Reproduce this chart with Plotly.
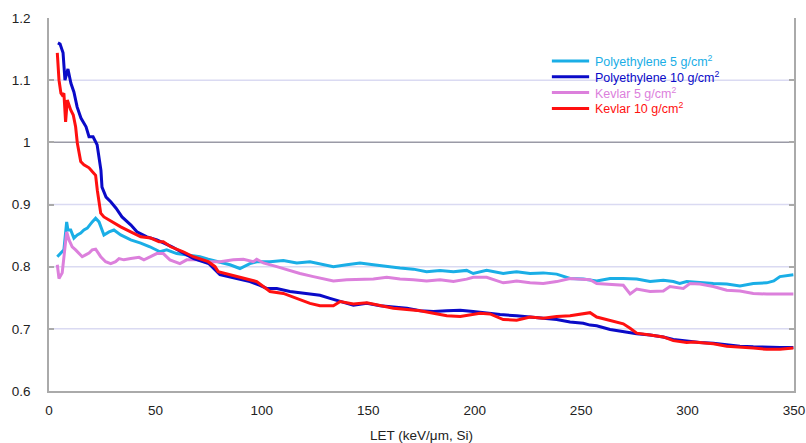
import plotly.graph_objects as go

# ---------------- data ----------------
x_pe10 = [4.2, 5.2, 6.6, 7.5, 8.9, 10.3, 11.7, 13.2, 15.0, 17.4,
          18.8, 20.7, 22.6, 23.5, 24.4, 24.9, 26.8, 29.1, 31.5, 34.3,
          38.5, 41.3, 46.0, 50.7, 57.8, 63.0, 68.0, 75.0, 78.0, 80.3,
          88.2, 94.4, 99.1, 102.3, 107.0, 113.2, 122.6, 127.3, 132.0, 136.8,
          143.0, 149.3, 155.6, 161.8, 168.1, 174.4, 180.6, 186.9, 193.2, 199.3,
          205.6, 208.7, 211.9, 219.7, 226.0, 232.2, 238.5, 244.8, 251.0, 254.2,
          257.3, 263.6, 269.8, 273.0, 276.1, 282.4, 288.6, 293.3, 299.6, 305.8,
          312.1, 318.4, 324.6, 330.9, 337.2, 343.4, 349.7]
y_pe10 = [1.160, 1.158, 1.144, 1.100, 1.118, 1.095, 1.081, 1.057, 1.039, 1.025,
          1.009, 1.009, 0.996, 0.975, 0.955, 0.928, 0.912, 0.904, 0.894, 0.880,
          0.867, 0.856, 0.848, 0.843, 0.832, 0.822, 0.813, 0.805, 0.795, 0.787,
          0.781, 0.776, 0.770, 0.765, 0.765, 0.760, 0.756, 0.754, 0.749, 0.744,
          0.738, 0.741, 0.737, 0.735, 0.733, 0.729, 0.728, 0.729, 0.730, 0.728,
          0.725, 0.724, 0.723, 0.721, 0.719, 0.717, 0.715, 0.711, 0.709, 0.706,
          0.705, 0.699, 0.695, 0.694, 0.692, 0.690, 0.687, 0.683, 0.680, 0.678,
          0.677, 0.674, 0.672, 0.671, 0.670, 0.670, 0.670]

x_k10 = [3.9, 4.7, 5.6, 6.2, 7.0, 7.8, 8.6, 10.2, 11.4, 12.5,
         13.3, 14.9, 16.4, 18.8, 20.3, 21.9, 22.7, 24.3, 25.8, 28.2,
         30.5, 33.7, 38.4, 43.1, 47.8, 51.7, 53.7, 57.2, 63.1, 67.8,
         74.8, 78.0, 79.5, 85.0, 91.3, 97.6, 100.7, 103.8, 110.1, 116.4,
         122.6, 127.3, 133.6, 136.8, 143.0, 149.3, 155.6, 161.8, 168.1, 174.4,
         180.6, 186.9, 193.2, 196.3, 202.5, 207.2, 213.4, 219.7, 226.0, 232.2,
         238.5, 244.8, 251.0, 254.2, 257.3, 263.6, 269.8, 273.0, 276.1, 282.4,
         288.6, 293.3, 299.6, 302.7, 305.8, 312.1, 318.4, 324.6, 330.9, 337.2,
         343.4, 349.7]
y_k10 = [1.144, 1.100, 1.079, 1.076, 1.079, 1.033, 1.068, 1.052, 1.044, 1.025,
         0.999, 0.969, 0.964, 0.959, 0.953, 0.947, 0.923, 0.886, 0.880, 0.875,
         0.870, 0.864, 0.856, 0.848, 0.846, 0.840, 0.840, 0.832, 0.824, 0.816,
         0.808, 0.800, 0.792, 0.787, 0.781, 0.776, 0.768, 0.760, 0.757, 0.749,
         0.741, 0.737, 0.737, 0.744, 0.740, 0.742, 0.737, 0.733, 0.731, 0.729,
         0.725, 0.721, 0.720, 0.722, 0.725, 0.724, 0.715, 0.714, 0.719, 0.717,
         0.720, 0.721, 0.724, 0.726, 0.719, 0.714, 0.708, 0.701, 0.693, 0.690,
         0.687, 0.681, 0.678, 0.679, 0.678, 0.676, 0.672, 0.671, 0.669, 0.667,
         0.667, 0.669]

x_pe5 = [3.9, 5.5, 7.0, 8.3, 8.9, 10.2, 11.7, 13.3, 14.9, 16.4,
         18.0, 20.3, 21.9, 23.5, 25.8, 28.2, 30.5, 33.7, 38.4, 43.1,
         47.4, 52.1, 55.3, 60.0, 64.7, 70.9, 74.8, 78.8, 85.0, 89.7,
         94.4, 97.6, 103.8, 110.1, 116.4, 122.6, 127.3, 133.6, 139.9, 146.1,
         152.4, 158.7, 164.9, 171.2, 177.4, 183.7, 190.0, 196.2, 199.3, 205.6,
         213.4, 219.7, 226.0, 232.2, 238.5, 244.8, 251.0, 257.3, 263.6, 269.8,
         276.1, 282.4, 288.6, 293.3, 296.3, 299.6, 305.8, 312.1, 318.4, 324.6,
         330.9, 337.2, 340.5, 343.4, 349.7]
y_pe5 = [0.816, 0.822, 0.827, 0.872, 0.859, 0.859, 0.846, 0.851, 0.854, 0.859,
         0.862, 0.872, 0.878, 0.872, 0.851, 0.856, 0.859, 0.851, 0.843, 0.838,
         0.832, 0.824, 0.827, 0.821, 0.819, 0.816, 0.812, 0.808, 0.803, 0.797,
         0.805, 0.808, 0.808, 0.810, 0.806, 0.808, 0.805, 0.800, 0.803, 0.806,
         0.803, 0.800, 0.798, 0.796, 0.792, 0.794, 0.792, 0.794, 0.789, 0.794,
         0.789, 0.792, 0.789, 0.790, 0.788, 0.781, 0.780, 0.777, 0.781, 0.781,
         0.780, 0.776, 0.778, 0.776, 0.773, 0.776, 0.774, 0.773, 0.772, 0.769,
         0.773, 0.774, 0.777, 0.784, 0.787]

x_k5 = [3.9, 4.7, 6.2, 7.4, 8.3, 9.4, 10.9, 12.5, 14.1, 15.6,
        17.2, 18.8, 20.3, 21.9, 24.3, 26.6, 29.0, 31.3, 32.9, 35.2,
        38.4, 42.3, 44.6, 47.8, 50.6, 53.7, 56.8, 61.5, 64.7, 69.4,
        75.6, 80.3, 86.6, 91.3, 96.0, 97.6, 100.7, 107.0, 111.7, 117.9,
        124.2, 128.9, 133.6, 139.9, 146.1, 152.4, 158.7, 164.9, 171.2, 177.4,
        183.7, 190.0, 196.2, 199.3, 205.6, 213.4, 219.7, 226.0, 232.2, 238.5,
        244.8, 251.0, 254.2, 257.3, 263.6, 269.8, 273.0, 276.1, 282.4, 288.6,
        291.7, 298.0, 301.1, 305.8, 312.1, 318.4, 324.6, 330.9, 337.2, 343.4,
        349.7]
y_k5 = [0.803, 0.781, 0.790, 0.827, 0.856, 0.843, 0.832, 0.827, 0.822, 0.816,
        0.819, 0.822, 0.827, 0.828, 0.816, 0.808, 0.805, 0.808, 0.813, 0.811,
        0.813, 0.815, 0.811, 0.816, 0.821, 0.821, 0.811, 0.805, 0.811, 0.811,
        0.808, 0.808, 0.811, 0.812, 0.808, 0.812, 0.806, 0.800, 0.795, 0.789,
        0.784, 0.780, 0.777, 0.779, 0.779, 0.780, 0.783, 0.780, 0.779, 0.777,
        0.779, 0.776, 0.780, 0.783, 0.783, 0.774, 0.777, 0.774, 0.773, 0.776,
        0.781, 0.780, 0.779, 0.773, 0.772, 0.770, 0.756, 0.764, 0.760, 0.761,
        0.768, 0.765, 0.773, 0.772, 0.768, 0.762, 0.761, 0.757, 0.756, 0.756,
        0.756]

series_names = ["Polyethylene 5 g/cm<sup>2</sup>", "Polyethylene 10 g/cm<sup>2</sup>",
                "Kevlar 5 g/cm<sup>2</sup>", "Kevlar 10 g/cm<sup>2</sup>"]
series_colors = ["#1aaee6", "#0a0ac8", "#dc80dc", "#ff1010"]

x_ticks = [0, 50, 100, 150, 200, 250, 300, 350]
y_ticks = [0.6, 0.7, 0.8, 0.9, 1.0, 1.1, 1.2]
y_ticktext = ["0.6", "0.7", "0.8", "0.9", "1", "1.1", "1.2"]
grid_minor = [0.7, 0.8, 0.9, 1.1]
grid_major = [1.0]

# ---------------- figure ----------------
FONT = "Liberation Sans, Arial, Helvetica, sans-serif"
fig = go.Figure()

series = [(x_pe5, y_pe5), (x_pe10, y_pe10), (x_k5, y_k5), (x_k10, y_k10)]
draw_order = [0, 2, 1, 3]
for i in draw_order:
    xs, ys = series[i]
    fig.add_trace(go.Scatter(
        x=xs, y=ys, mode="lines", name=series_names[i], showlegend=False,
        line=dict(color=series_colors[i], width=3),
    ))

for g in grid_minor:
    fig.add_shape(type="line", xref="paper", x0=0, x1=1, yref="y", y0=g, y1=g,
                  line=dict(color="#dadaf2", width=1.5), layer="below")
for g in grid_major:
    fig.add_shape(type="line", xref="paper", x0=0, x1=1, yref="y", y0=g, y1=g,
                  line=dict(color="#9a9aa6", width=1.5), layer="below")

# legend (key lines + coloured labels), placed in paper coordinates
leg_x0, leg_x1, leg_tx = 0.675, 0.725, 0.730
leg_y_top, leg_dy = 0.885, 0.0425
for k in range(4):
    yy = leg_y_top - k * leg_dy
    fig.add_shape(type="line", xref="paper", yref="paper",
                  x0=leg_x0, x1=leg_x1, y0=yy, y1=yy,
                  line=dict(color=series_colors[k], width=3))
    fig.add_annotation(xref="paper", yref="paper", x=leg_tx, y=yy,
                       xanchor="left", yanchor="middle", showarrow=False,
                       text=series_names[k],
                       font=dict(family=FONT, size=12.5, color=series_colors[k]))

fig.update_layout(
    width=806, height=443,
    margin=dict(l=49, r=12, t=18, b=52, autoexpand=False),
    paper_bgcolor="white", plot_bgcolor="white",
    font=dict(family=FONT, size=13.5, color="#222222"),
    showlegend=False,
    xaxis=dict(
        range=[0, 350], tickvals=x_ticks, showgrid=False, zeroline=False,
        showline=True, linecolor="#aaaaaa", linewidth=1.5, ticks="",
        ticklabelstandoff=6, automargin=False,
        title=dict(text="LET (keV/μm, Si)", standoff=24, font=dict(size=13.5)),
    ),
    yaxis=dict(
        range=[0.6, 1.2], tickvals=y_ticks, ticktext=y_ticktext,
        showgrid=False, zeroline=False, automargin=False,
        showline=True, linecolor="#aaaaaa", linewidth=1.5, mirror="ticks",
        ticks="inside", ticklen=5, tickcolor="#aaaaaa", tickwidth=1.5,
        ticklabelstandoff=14,
    ),
)

# remove the browser's default 8px body margin so the 806x443 figure fills the window
fig.write_html("out.html",
               config={"displayModeBar": False},
               post_script="document.body.style.margin='0';"
                           "document.body.style.overflow='hidden';")
